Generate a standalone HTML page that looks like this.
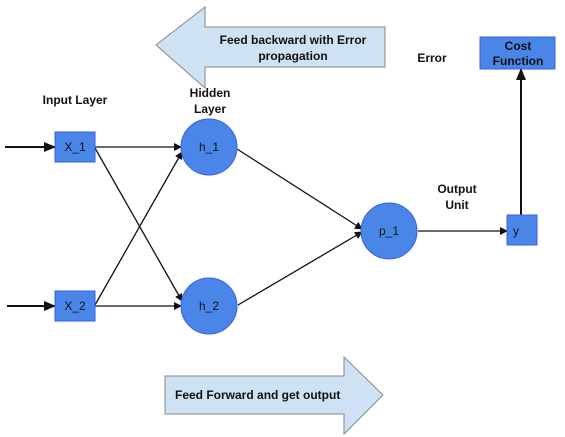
<!DOCTYPE html>
<html><head><style>
html,body{margin:0;padding:0;background:#fff;width:565px;height:437px;overflow:hidden}
svg text{font-family:"Liberation Sans",sans-serif;font-size:12px;fill:#111}
.b{font-weight:bold}
</style></head><body>
<svg width="565" height="437" viewBox="0 0 565 437" xmlns="http://www.w3.org/2000/svg">
<defs>
<marker id="a" markerWidth="8" markerHeight="8" refX="7" refY="4" orient="auto" markerUnits="userSpaceOnUse">
<path d="M0,0 L8,4 L0,8 z" fill="#111"/></marker>
<marker id="a2" markerWidth="12" markerHeight="10" refX="11" refY="5" orient="auto" markerUnits="userSpaceOnUse">
<path d="M0,0 L12,5 L0,10 z" fill="#111"/></marker>
</defs>
<polygon points="156,45 205,7 205,27 385,27 385,67 205,67 205,88" fill="#cfe2f3" stroke="#888" stroke-width="1"/>
<text class="b" x="293" y="44" text-anchor="middle">Feed backward with Error</text>
<text class="b" x="293" y="60" text-anchor="middle">propagation</text>
<polygon points="165,376 344,376 344,357 383,395 344,434 344,414 165,414" fill="#cfe2f3" stroke="#888" stroke-width="1"/>
<text class="b" x="175" y="399">Feed Forward and get output</text>
<text class="b" x="432" y="62" text-anchor="middle">Error</text>
<text class="b" x="75" y="104" text-anchor="middle">Input Layer</text>
<text class="b" x="210" y="97" text-anchor="middle">Hidden</text>
<text class="b" x="210" y="113" text-anchor="middle">Layer</text>
<text class="b" x="457" y="193" text-anchor="middle">Output</text>
<text class="b" x="457" y="209" text-anchor="middle">Unit</text>
<g stroke="#111" stroke-width="1.3" fill="none">
<line x1="5" y1="147" x2="55" y2="147" stroke-width="2" marker-end="url(#a2)"/>
<line x1="7" y1="306" x2="55" y2="306" stroke-width="2" marker-end="url(#a2)"/>
<line x1="95" y1="147" x2="181" y2="147" marker-end="url(#a)"/>
<line x1="95" y1="306" x2="181" y2="306" marker-end="url(#a)"/>
<line x1="95" y1="148" x2="182" y2="301" marker-end="url(#a)"/>
<line x1="95" y1="305" x2="182" y2="152" marker-end="url(#a)"/>
<line x1="237" y1="149" x2="362" y2="229" marker-end="url(#a)"/>
<line x1="238" y1="305" x2="362" y2="232" marker-end="url(#a)"/>
<line x1="418" y1="231" x2="507" y2="231" marker-end="url(#a)"/>
<line x1="521" y1="215" x2="521" y2="69" stroke-width="2" marker-end="url(#a2)"/>
</g>
<g fill="#4a86e8" stroke="#3c5ee8" stroke-width="1">
<rect x="55" y="132" width="40" height="30"/>
<rect x="55" y="291" width="40" height="30"/>
<circle cx="209" cy="147" r="28"/>
<circle cx="209" cy="306" r="28"/>
<circle cx="389" cy="231" r="28"/>
<rect x="507" y="215" width="30" height="30"/>
<rect x="480" y="37" width="75" height="32"/>
</g>
<text x="75" y="151" text-anchor="middle">X_1</text>
<text x="75" y="310" text-anchor="middle">X_2</text>
<text x="209" y="151" text-anchor="middle">h_1</text>
<text x="209" y="310" text-anchor="middle">h_2</text>
<text x="389" y="235" text-anchor="middle">p_1</text>
<text x="516" y="235" text-anchor="middle">y</text>
<text class="b" x="518" y="50" text-anchor="middle">Cost</text>
<text class="b" x="518" y="65" text-anchor="middle">Function</text>
</svg>
</body></html>
